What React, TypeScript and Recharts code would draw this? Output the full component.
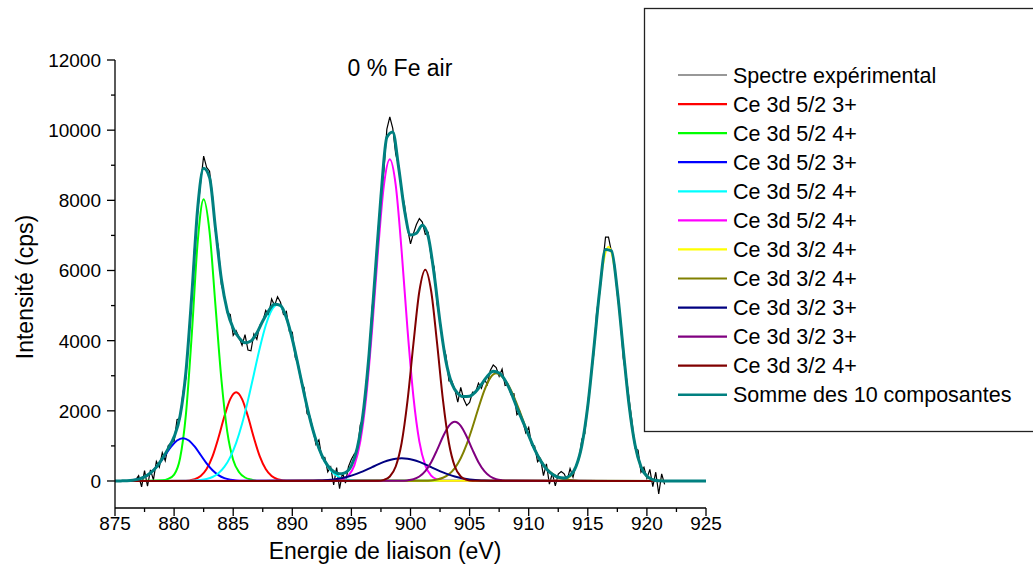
import { LineChart, Line, XAxis, YAxis } from "recharts";

// ─── Layout ─────────────────────────────────────────────────────────────────
const W = 1033;
const H = 570;
const FONT = '"Liberation Sans", Arial, Helvetica, sans-serif';

// ─── Axes ───────────────────────────────────────────────────────────────────
const E_MIN = 875;
const E_MAX = 925;
const CPS_MIN = -770;
const CPS_MAX = 12000;
const xTicks = [875, 877.5, 880, 882.5, 885, 887.5, 890, 892.5, 895, 897.5, 900, 902.5, 905, 907.5, 910, 912.5, 915, 917.5, 920, 922.5, 925];
const yTicks = [0, 1000, 2000, 3000, 4000, 5000, 6000, 7000, 8000, 9000, 10000, 11000, 12000];

// ─── Experimental spectrum (0.25 eV step) ───────────────────────────────────
const expStart = 876.75;
const expStep = 0.25;
const expCps = [
  30, 150, -165, 297, -150, 317, 30, 556,
  390, 808, 575, 1002, 1090, 1127, 1750, 1774,
  2520, 2931, 4210, 5292, 6750, 7685, 8530, 9261,
  8940, 8830, 8120, 7110, 6650, 5600, 5290, 4790,
  4750, 4150, 4280, 4090, 3870, 4170, 3730, 3710,
  4190, 4040, 4440, 4540, 4860, 4740, 5190, 5000,
  5250, 5095, 4750, 4832, 4270, 4243, 3520, 3325,
  2830, 2663, 1920, 1846, 1460, 1042, 1170, 661,
  670, 260, 400, -109, 380, -217, 240, -59,
  410, 619, 770, 853, 1600, 1803, 2790, 3572,
  4920, 5662, 7080, 8124, 8850, 10030, 10380, 10050,
  9320, 8989, 8280, 7852, 7190, 6759, 7060, 7312,
  7480, 7380, 7030, 7084, 6360, 6095, 5050, 4562,
  3890, 3579, 2850, 2850, 2610, 2246, 2670, 2335,
  2150, 2238, 2530, 2521, 2790, 2645, 2900, 2748,
  3150, 3305, 3230, 2986, 3190, 2722, 2750, 2468,
  2490, 1893, 1980, 1710, 1370, 1530, 1020, 1000,
  550, 640, 150, 490, -90, 220, -140, 196,
  272, 205, 20, 355, 110, 452, 620, 1192,
  1350, 2220, 2910, 3608, 4830, 5350, 6150, 6950,
  6950, 6530, 6200, 5310, 4630, 3498, 2990, 2320,
  1670, 928, 880, 252, 390, 72, 330, -164,
  250, -372, 204, -98,
];

// ─── Sum of the 10 components (0.5 eV step, 875 → 925) ─────────────────────
const sumStart = 875;
const sumStep = 0.5;
const sumCps = [
  0, 3, 8, 22, 54, 117, 227, 396, 638, 922,
  1257, 1844, 3111, 5312, 7795, 8911, 8650, 7200, 5750, 4850,
  4350, 4080, 3940, 3990, 4220, 4560, 4850, 5040, 5005, 4652,
  4043, 3285, 2493, 1766, 1172, 731, 440, 271, 203, 241,
  439, 943, 1953, 3632, 5862, 8114, 9800, 9950, 8929, 7702,
  7009, 7062, 7290, 6964, 5895, 4522, 3409, 2770, 2496, 2405,
  2418, 2541, 2755, 2988, 3125, 3076, 2872, 2528, 2093, 1700,
  1300, 900, 580, 340, 190, 106, 85, 155, 412, 1022,
  2140, 3738, 5420, 6600, 6560, 5420, 3738, 2140, 1018, 402,
  132, 36, 8, 2, 0, 0, 0, 0, 0, 0,
  0,
];

// ─── Components (0.5 eV step, each from its own start) ─────────────────────
const compStep = 0.5;
const compFrom = 876.25;
const compTo = 921.5;

const red52Start = 880.75;
const red52Cps = [4, 15, 50, 142, 342, 703, 1232, 1837, 2335, 2530, 2335, 1837, 1232, 703, 342, 142, 50, 15, 4];

const green52Start = 879.0;
const green52Cps = [20, 60, 180, 640, 1900, 4200, 6830, 8030, 7100, 5000, 2900, 1400, 600, 250, 100, 40, 10];

const blue52Start = 876.25;
const blue52Cps = [14, 35, 80, 165, 304, 501, 740, 977, 1154, 1220, 1154, 977, 740, 501, 304, 165, 80, 35, 14, 5];

const cyan52Start = 881.25;
const cyan52Cps = [4, 11, 26, 56, 114, 221, 400, 679, 1086, 1630, 2298, 3045, 3789, 4430, 4866, 5020, 4849, 4371, 3676, 2885, 2112, 1443, 920, 547, 304, 157, 76, 34, 14, 6];

const magenta52Start = 893.75;
const magenta52Cps = [10, 42, 150, 446, 1123, 2392, 4306, 6553, 8431, 9170, 8431, 6553, 4306, 2392, 1123, 446, 150, 42, 10];

const yellow32Start = 912.25;
const yellow32Cps = [4, 17, 70, 236, 655, 1512, 2895, 4607, 6087, 6680, 6087, 4607, 2895, 1512, 655, 236, 70, 17, 4];

const olive32Start = 901.25;
const olive32Cps = [6, 16, 41, 92, 193, 369, 647, 1042, 1537, 2080, 2582, 2940, 3070, 2975, 2750, 2400, 1980, 1520, 1100, 740, 470, 280, 155, 80, 40, 18, 7];

const navy32Start = 891.25;
const navy32Cps = [4, 7, 13, 22, 36, 58, 88, 129, 181, 244, 316, 394, 472, 543, 600, 637, 650, 637, 600, 543, 472, 394, 316, 244, 181, 129, 88, 58, 36, 22, 13, 7, 4];

const purple32Start = 899.25;
const purple32Cps = [5, 17, 50, 128, 281, 536, 886, 1268, 1573, 1690, 1573, 1268, 886, 536, 281, 128, 50, 17, 5];

const wine32Start = 897.25;
const wine32Cps = [6, 32, 127, 413, 1084, 2295, 3921, 5408, 6020, 5408, 3921, 2295, 1084, 413, 127, 32, 6];

// ─── Helpers ────────────────────────────────────────────────────────────────
type Pt = { e: number; y: number };

function toPoints(start: number, step: number, cps: number[]): Pt[] {
  return cps.map((y, i) => ({ e: start + i * step, y }));
}

// components sit on a zero baseline over the measured range
function component(start: number, cps: number[]): Pt[] {
  const pts = toPoints(start, compStep, cps);
  if (pts[0].e > compFrom) pts.unshift({ e: compFrom, y: 0 });
  if (pts[pts.length - 1].e < compTo) pts.push({ e: compTo, y: 0 });
  return pts;
}

const components = [
  { label: "Ce 3d 5/2 3+", color: "#ff0000", data: component(red52Start, red52Cps) },
  { label: "Ce 3d 5/2 4+", color: "#00ff00", data: component(green52Start, green52Cps) },
  { label: "Ce 3d 5/2 3+", color: "#0000ff", data: component(blue52Start, blue52Cps) },
  { label: "Ce 3d 5/2 4+", color: "#00ffff", data: component(cyan52Start, cyan52Cps) },
  { label: "Ce 3d 5/2 4+", color: "#ff00ff", data: component(magenta52Start, magenta52Cps) },
  { label: "Ce 3d 3/2 4+", color: "#ffff00", data: component(yellow32Start, yellow32Cps) },
  { label: "Ce 3d 3/2 4+", color: "#808000", data: component(olive32Start, olive32Cps) },
  { label: "Ce 3d 3/2 3+", color: "#000080", data: component(navy32Start, navy32Cps) },
  { label: "Ce 3d 3/2 3+", color: "#800080", data: component(purple32Start, purple32Cps) },
  { label: "Ce 3d 3/2 4+", color: "#800000", data: component(wine32Start, wine32Cps) },
];

const expData = toPoints(expStart, expStep, expCps);
const sumData = toPoints(sumStart, sumStep, sumCps);

const C_EXP = "#000000";
const C_SUM = "#008080";

const legendItems = [
  { label: "Spectre expérimental", color: "#333333", width: 1.2 },
  ...components.map((c) => ({ label: c.label, color: c.color, width: 2.2 })),
  { label: "Somme des 10 composantes", color: C_SUM, width: 2.6 },
];

// ─── Ticks ──────────────────────────────────────────────────────────────────
function XTick({ x, y, payload }: any) {
  const v = payload.value as number;
  const major = Math.abs(v % 5) < 1e-6;
  return (
    <g>
      <line x1={x} x2={x} y1={y} y2={y + (major ? 8 : 4)} stroke="#000" strokeWidth={1.3} />
      {major && (
        <text x={x} y={y + 22} textAnchor="middle" fontSize={19} fontFamily={FONT} fill="#000">
          {v}
        </text>
      )}
    </g>
  );
}

function YTick({ x, y, payload }: any) {
  const v = payload.value as number;
  const major = v % 2000 === 0;
  return (
    <g>
      <line x1={x - (major ? 8 : 4)} x2={x} y1={y} y2={y} stroke="#000" strokeWidth={1.3} />
      {major && (
        <text x={x - 14} y={y + 7} textAnchor="end" fontSize={19} fontFamily={FONT} fill="#000">
          {v}
        </text>
      )}
    </g>
  );
}

// ─── Component ──────────────────────────────────────────────────────────────
export default function App() {
  const legendTop = 75;
  const legendGap = 29.07;

  return (
    <div style={{ position: "absolute", left: 0, top: 0, width: W, height: H, background: "#fff", fontFamily: FONT }}>
      <LineChart width={W} height={H} margin={{ top: 60, right: 327, bottom: 0, left: 0 }}>
        <XAxis
          dataKey="e"
          type="number"
          domain={[E_MIN, E_MAX]}
          ticks={xTicks}
          interval={0}
          allowDataOverflow
          height={62}
          tickSize={0}
          tickMargin={0}
          tickLine={false}
          tick={<XTick />}
          axisLine={{ stroke: "#000", strokeWidth: 1.3 }}
        />
        <YAxis
          type="number"
          domain={[CPS_MIN, CPS_MAX]}
          ticks={yTicks}
          interval={0}
          allowDataOverflow
          width={115}
          tickSize={0}
          tickMargin={0}
          tickLine={false}
          tick={<YTick />}
          axisLine={{ stroke: "#000", strokeWidth: 1.3 }}
        />

        <Line
          data={expData}
          dataKey="y"
          type="linear"
          stroke={C_EXP}
          strokeWidth={1.2}
          dot={false}
          isAnimationActive={false}
        />

        {components.map((c, i) => (
          <Line
            key={i}
            data={c.data}
            dataKey="y"
            type="monotone"
            stroke={c.color}
            strokeWidth={2}
            dot={false}
            isAnimationActive={false}
          />
        ))}

        <Line
          data={sumData}
          dataKey="y"
          type="monotone"
          stroke={C_SUM}
          strokeWidth={3}
          dot={false}
          isAnimationActive={false}
        />
      </LineChart>

      {/* ── Titles and legend ───────────────────────────────────────────── */}
      <svg
        width={W}
        height={H}
        style={{ position: "absolute", left: 0, top: 0, pointerEvents: "none" }}
        fontFamily={FONT}
      >
        <text x={400} y={76} textAnchor="middle" fontSize={23} fill="#000">
          0 % Fe air
        </text>
        <text x={385} y={559} textAnchor="middle" fontSize={23} fill="#000">
          Energie de liaison (eV)
        </text>
        <text
          transform="translate(33, 287) rotate(-90)"
          textAnchor="middle"
          fontSize={23}
          fill="#000"
        >
          Intensité (cps)
        </text>

        <rect x={644.5} y={8.5} width={420} height={423} fill="none" stroke="#222" strokeWidth={1.3} />
        {legendItems.map((it, i) => {
          const cy = legendTop + i * legendGap;
          return (
            <g key={i}>
              <line x1={678} x2={727} y1={cy} y2={cy} stroke={it.color} strokeWidth={it.width} />
              <text x={733} y={cy + 7.5} fontSize={21.5} fill="#000">
                {it.label}
              </text>
            </g>
          );
        })}
      </svg>
    </div>
  );
}
